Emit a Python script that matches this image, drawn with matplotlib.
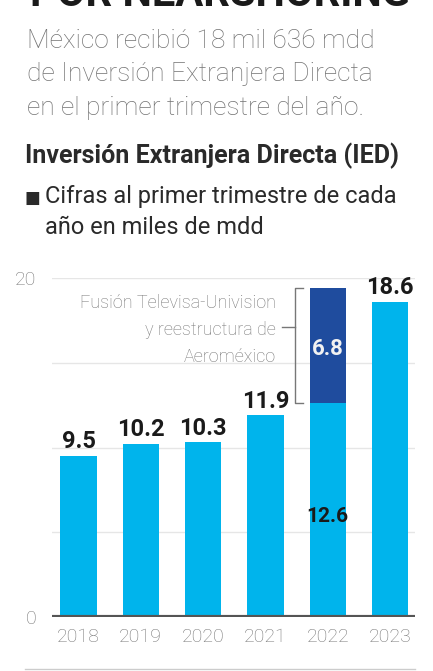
import matplotlib.pyplot as plt
import numpy as np

# datos: IED al primer trimestre (miles de mdd)
years = ['2018', '2019', '2020', '2021', '2022', '2023']
base = [9.5, 10.2, 10.3, 11.9, 12.6, 18.6]
extra = [0, 0, 0, 0, 6.8, 0]
labels = ['9.5', '10.2', '10.3', '11.9', '', '18.6']

W, H = 433, 671
fig = plt.figure(figsize=(W / 100, H / 100), dpi=100)

def fx(px):
    return px / W

def fy(py):
    return 1 - py / H

light = '#00B4EC'
dark = '#1F4C9E'
grey = '#777777'

# textos de cabecera (el titulo queda cortado arriba, como en el original)
fig.text(fx(30), fy(6), 'POR NEARSHORING', ha='left', va='baseline',
         fontsize=30, fontweight='bold', family='Roboto', color='#1a1a1a')
sub = ['México recibió 18 mil 636 mdd',
       'de Inversión Extranjera Directa',
       'en el primer trimestre del año.']
for i, s in enumerate(sub):
    fig.text(fx(27), fy(48 + i * 33.5), s, ha='left', va='baseline',
             fontsize=19, family='Roboto', fontweight='light', color='#737373')
fig.text(fx(25), fy(163), 'Inversión Extranjera Directa (IED)', ha='left', va='baseline',
         fontsize=18, family='Roboto', fontweight='bold', color='#2a2a2a')
fig.text(fx(24), fy(203), '\u25A0', ha='left', va='baseline', fontsize=12,
         family='DejaVu Sans', color='#2a2a2a')
fig.text(fx(45), fy(203), 'Cifras al primer trimestre de cada', ha='left', va='baseline',
         fontsize=17, family='Roboto', color='#2a2a2a')
fig.text(fx(45), fy(234), 'año en miles de mdd', ha='left', va='baseline',
         fontsize=17, family='Roboto', color='#2a2a2a')

# grafica
ax = fig.add_axes([fx(52), fy(617), fx(415) - fx(52), fy(278) - fy(617)])
x = np.arange(len(years))
ax.bar(x, base, width=0.58, color=light, zorder=2)
ax.bar(x, extra, bottom=base, width=0.58, color=dark, zorder=2)
ax.set_xlim(-0.425, 5.40)
ax.set_ylim(0, 20)
for g in [5, 10, 15, 20]:
    ax.axhline(g, color='#e6e6e6', lw=1, zorder=1)
ax.axhline(0, color='#555555', lw=3, zorder=3)
for s in ax.spines.values():
    s.set_visible(False)
ax.set_yticks([0, 20])
ax.set_yticklabels(['0', '20'], fontsize=14, color=grey, family='Roboto', fontweight='light')
ax.tick_params(axis='y', length=0, pad=11)
ax.set_xticks(x)
ax.set_xticklabels(years, fontsize=14, color=grey, family='Roboto', fontweight='light')
ax.tick_params(axis='x', length=0, pad=8)
for xi, v, lab in zip(x, base, labels):
    if lab:
        ax.text(xi, v + 0.45, lab, ha='center', va='baseline', fontsize=17,
                fontweight='bold', family='Roboto', color='#1a1a1a')
ax.text(4, 5.6, '12.6', ha='center', va='baseline', fontsize=15,
        fontweight='bold', family='Roboto', color='#1a1a1a', zorder=4)
ax.text(4, 15.45, '6.8', ha='center', va='baseline', fontsize=16,
        fontweight='bold', family='Roboto', color='#f2f2f2', zorder=4)

# anotacion con corchete
note = ['Fusión Televisa-Univision', 'y reestructura de', 'Aeroméxico']
for i, s in enumerate(note):
    fig.text(fx(276), fy(308 + i * 27), s, ha='right', va='baseline',
             fontsize=13, family='Roboto', fontweight='light', color=grey)
bx = 3.48
ax.plot([bx + 0.12, bx, bx, bx + 0.12], [19.4, 19.4, 12.6, 12.6], color=grey, lw=1, zorder=3)
ax.plot([bx - 0.22, bx], [17.1, 17.1], color=grey, lw=1, zorder=3)

# linea inferior
fig.add_artist(plt.Line2D([fx(25), fx(415)], [fy(669), fy(669)], color='#cccccc', lw=1))

fig.savefig('out.png', dpi=100)
